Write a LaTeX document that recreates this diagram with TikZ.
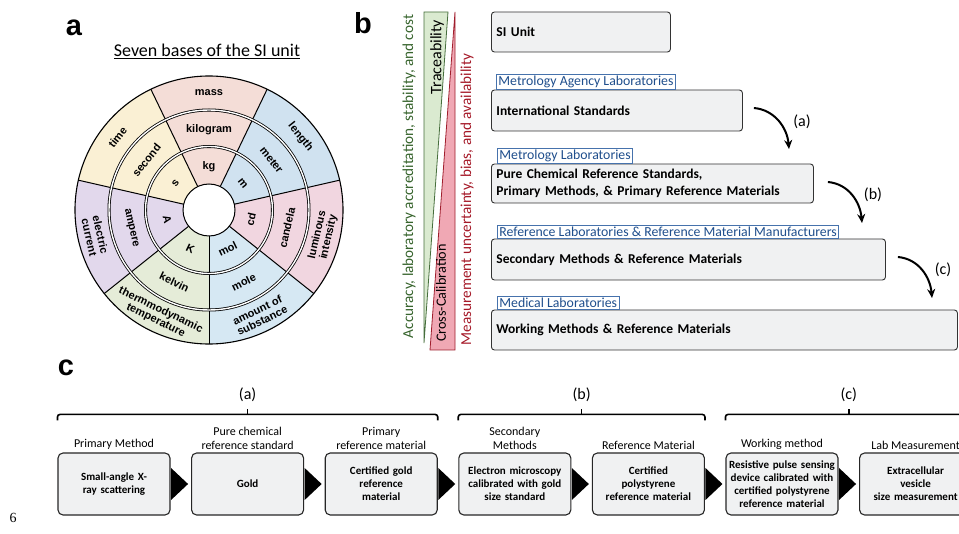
\documentclass[tikz,border=0pt]{standalone}
\usepackage{fontspec}
\setmainfont{Carlito}
\newfontfamily\wheelfont{Liberation Sans}
\newfontfamily\numfont{Liberation Serif}
\usetikzlibrary{positioning, arrows.meta, calc}
\definecolor{MassColor}{RGB}{244,221,215}
\definecolor{TimeColor}{RGB}{250,240,212}
\definecolor{CurrentColor}{RGB}{226,216,236}
\definecolor{TempColor}{RGB}{229,236,216}
\definecolor{AmountColor}{RGB}{214,232,243}
\definecolor{LumColor}{RGB}{241,214,224}
\definecolor{LengthColor}{RGB}{208,226,240}
\definecolor{BoxGray}{RGB}{240,241,242}
\definecolor{TagBlue}{RGB}{31,78,140}
\definecolor{TagEdge}{RGB}{70,114,172}
\definecolor{TraceGreen}{RGB}{218,234,208}
\definecolor{TraceEdge}{RGB}{70,110,60}
\definecolor{TextGreen}{RGB}{55,100,45}
\definecolor{CalPink}{RGB}{240,168,180}
\definecolor{CalEdge}{RGB}{160,30,45}
\definecolor{TextRed}{RGB}{165,25,40}
\tikzstyle{panelletter} = [font=\wheelfont\bfseries\fontsize{29}{30}\selectfont, inner sep=0pt]
\tikzstyle{wheeltext} = [font=\wheelfont\bfseries\fontsize{11}{11.5}\selectfont, align=center, inner sep=0pt]
\tikzstyle{ring} = [line width=0.8pt, double=white, double distance=1.4pt]
\tikzstyle{levelbox} = [draw=black!80, line width=0.9pt, rounded corners=3pt, fill=BoxGray, anchor=west, align=left, inner xsep=5pt, font=\bfseries\fontsize{13.5}{18}\selectfont]
\tikzstyle{labtag} = [draw=TagEdge, line width=0.8pt, fill=white, text=TagBlue, anchor=south west, inner xsep=2pt, inner ysep=1.3pt, font=\fontsize{13.8}{15}\selectfont]
\tikzstyle{curvy} = [line width=2pt, -{Stealth[length=9pt, width=8pt]}]
\tikzstyle{stepbox} = [draw=black!85, line width=1.1pt, rounded corners=5pt, fill=BoxGray, minimum width=112pt, minimum height=62pt, text width=108pt, inner sep=2pt, align=center, font=\bfseries\fontsize{11}{13}\selectfont]
\tikzstyle{stephead} = [align=center, inner sep=1pt, font=\fontsize{12}{14}\selectfont]
\tikzstyle{bracket} = [line width=1.6pt, rounded corners=2.5pt]
\begin{document}
\begin{tikzpicture}[x=1pt, y=1pt]
\useasboundingbox (0,0) rectangle (959,-534);

% Panel a: the SI wheel
\node[panelletter] (la) at (74,-27.5) {a};
\node[anchor=base, font=\fontsize{18}{20}\selectfont] (wheeltitle) at (207,-57) {\underline{Seven bases of the SI unit}};
\begin{scope}[shift={(209,-210)}]
  % sectors
  \foreach \ang/\col in {90/MassColor, 141.43/TimeColor, 192.86/CurrentColor, 244.29/TempColor, 295.71/AmountColor, 347.14/LumColor, 38.57/LengthColor}
    \fill[\col] (0,0) -- ({\ang-25.714}:134pt) arc[start angle=\ang-25.714, end angle=\ang+25.714, radius=134pt] -- cycle;
  % spokes and rings
  \foreach \ang in {12.86, 64.29, 115.71, 167.14, 218.57, 270, 321.43}
    \draw[line width=1pt] (\ang:26pt) -- (\ang:134pt);
  \draw[line width=1.1pt] (0,0) circle (134pt);
  \draw[ring] (0,0) circle (100pt);
  \draw[ring] (0,0) circle (63.5pt);
  \filldraw[fill=white, line width=1pt] (0,0) circle (26pt);
  % labels
  \foreach \ang/\sym/\unit/\qty [count=\i] in {90/kg/kilogram/mass, 141.43/s/second/time, 192.86/A/ampere/{electric\\current}, 244.29/K/kelvin/{thermmodynamic\\temperature}, 295.71/mol/mole/{amount of\\substance}, 347.14/cd/candela/{luminous\\intensity}, 38.57/m/meter/length} {
    \pgfmathsetmacro\rot{\ang<180 ? \ang-90 : \ang+90}
    \node[wheeltext, rotate=\rot] (sym\i) at (\ang:43pt) {\sym};
    \node[wheeltext, rotate=\rot] (unit\i) at (\ang:80pt) {\unit};
    \node[wheeltext, rotate=\rot] (qty\i) at (\ang:117pt) {\qty};
  }
\end{scope}

% Panel b: hierarchy
\node[panelletter] (lb) at (363,-23) {b};
\filldraw[fill=TraceGreen, draw=TraceEdge, line width=0.8pt] (424,-12) -- (448,-12) -- (424,-343) -- cycle;
\filldraw[fill=CalPink, draw=CalEdge, line width=0.8pt] (455,-12) -- (455,-350) -- (430,-350) -- cycle;
\node[rotate=90, text=TextGreen, font=\fontsize{15.2}{17}\selectfont] (accuracy) at (409,-176.5) {Accuracy, laboratory accreditation, stability, and cost};
\node[rotate=90, font=\fontsize{16}{17}\selectfont] (trace) at (437,-57) {Traceability};
\node[rotate=90, font=\fontsize{14.2}{15}\selectfont] (crosscal) at (441,-293) {Cross-Calibration};
\node[rotate=90, text=TextRed, font=\fontsize{15.2}{16}\selectfont] (uncert) at (467,-199.5) {Measurement uncertainty, bias, and availability};

\node[levelbox, minimum width=179pt, minimum height=40pt, text width=169pt] (si) at (491,-32) {SI Unit};
\node[levelbox, minimum width=251pt, minimum height=41pt, text width=241pt] (intl) at (491,-110.5) {International Standards};
\node[levelbox, minimum width=322pt, minimum height=39pt, text width=312pt] (pure) at (491,-183.5) {Pure Chemical Reference Standards,\\[-1pt]Primary Methods, \& Primary Reference Materials};
\node[levelbox, minimum width=394pt, minimum height=41pt, text width=384pt] (second) at (491,-259.5) {Secondary Methods \& Reference Materials};
\node[levelbox, minimum width=466pt, minimum height=40pt, text width=456pt] (work) at (491,-330) {Working Methods \& Reference Materials};

\node[labtag] (tagA) at ([xshift=5pt]intl.north west) {Metrology Agency Laboratories};
\node[labtag] (tagB) at ([xshift=6pt]pure.north west) {Metrology Laboratories};
\node[labtag] (tagC) at ([xshift=6pt]second.north west) {Reference Laboratories \& Reference Material Manufacturers};
\node[labtag] (tagD) at ([xshift=6pt]work.north west) {Medical Laboratories};

% curved steps
\coordinate (aEnd) at (789,-149);
\coordinate (bEnd) at (862,-223);
\coordinate (cEnd) at (932,-298);
\draw[curvy] ([xshift=11pt,yshift=2.5pt]intl.east) to[out=-5, in=95] (aEnd);
\draw[curvy] ([xshift=14pt,yshift=1.5pt]pure.east) to[out=-5, in=95] (bEnd);
\draw[curvy] ([xshift=12pt,yshift=2.5pt]second.east) to[out=-5, in=95] (cEnd);
\node[font=\fontsize{16}{18}\selectfont] (stepa) at (802,-122) {(a)};
\node[font=\fontsize{16}{18}\selectfont] (stepb) at (873,-195) {(b)};
\node[font=\fontsize{16}{18}\selectfont] (stepc) at (943,-270) {(c)};

% Panel c: example chain
\node[panelletter] (lc) at (66,-367.5) {c};
\node[stepbox] (p1) at (114,-484) {Small-angle X-\\ray scattering};
\node[stepbox, right=20.5pt of p1] (p2) {Gold};
\node[stepbox, right=20.5pt of p2] (p3) {Certified gold\\reference\\material};
\node[stepbox, right=20.5pt of p3] (p4) {Electron microscopy\\calibrated with gold\\size standard};
\node[stepbox, right=20.5pt of p4] (p5) {Certified\\polystyrene\\reference material};
\node[stepbox, right=20.5pt of p5] (p6) {Resistive pulse sensing\\device calibrated with\\certified polystyrene\\reference material};
\node[stepbox, right=20.5pt of p6] (p7) {Extracellular\\vesicle\\size measurement};

\node[stephead, above=2pt of p1] (h1) {Primary Method};
\node[stephead, above=2pt of p2] (h2) {Pure chemical\\reference standard};
\node[stephead, above=2pt of p3] (h3) {Primary\\reference material};
\node[stephead, above=2pt of p4] (h4) {Secondary\\Methods};
\node[stephead, above=2pt of p5] (h5) {Reference Material};
\node[stephead, above=2pt of p6] (h6) {Working method};
\node[stephead, above=2pt of p7] (h7) {Lab Measurement};

\foreach \a/\b in {p1/p2, p2/p3, p3/p4, p4/p5, p5/p6, p6/p7}
  \fill ([xshift=0.5pt,yshift=16pt]\a.east) -- ([xshift=-3pt]\b.west) -- ([xshift=0.5pt,yshift=-16pt]\a.east) -- cycle;

\foreach \l/\r/\t in {p1/p3/a, p4/p5/b, p6/p7/c} {
  \draw[bracket] ([yshift=32pt]\l.north west) -- ([yshift=38pt]\l.north west) -- ([yshift=38pt]\r.north east) -- ([yshift=32pt]\r.north east);
  \coordinate (mid\t) at ($([yshift=38pt]\l.north west)!0.5!([yshift=38pt]\r.north east)$);
  \draw[line width=1.6pt] (mid\t) -- ++(0,5);
  \node[font=\fontsize{16}{18}\selectfont] (brace\t) at ([yshift=20pt]mid\t) {(\t)};
}

\node[font=\numfont\fontsize{14}{14}\selectfont] (pagenum) at (13,-518) {6};
\end{tikzpicture}
\end{document}
